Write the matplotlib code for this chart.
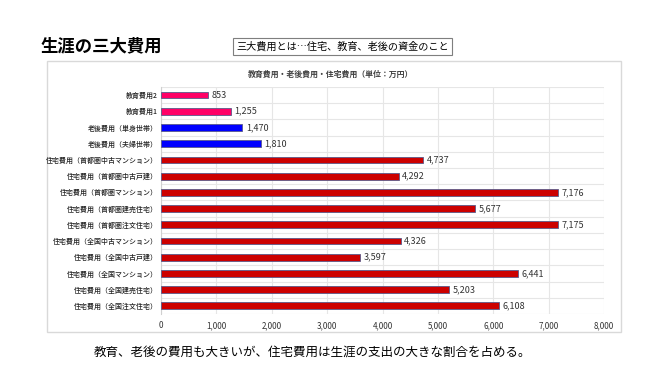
import matplotlib
matplotlib.use("Agg")
import matplotlib.pyplot as plt
from matplotlib.patches import Rectangle

plt.rcParams['font.family'] = ['Noto Sans CJK JP', 'DejaVu Sans']

categories = [
    "教育費用2", "教育費用1", "老後費用（単身世帯）", "老後費用（夫婦世帯）",
    "住宅費用（首都圏中古マンション）", "住宅費用（首都圏中古戸建）",
    "住宅費用（首都圏マンション）", "住宅費用（首都圏建売住宅）",
    "住宅費用（首都圏注文住宅）", "住宅費用（全国中古マンション）",
    "住宅費用（全国中古戸建）", "住宅費用（全国マンション）",
    "住宅費用（全国建売住宅）", "住宅費用（全国注文住宅）",
]
values = [853, 1255, 1470, 1810, 4737, 4292, 7176, 5677, 7175, 4326, 3597, 6441, 5203, 6108]
groups = ["edu", "edu", "old", "old"] + ["house"] * 10
group_colors = {"edu": "#FF0066", "old": "#0000FF", "house": "#CC0000"}
xticks = [0, 1000, 2000, 3000, 4000, 5000, 6000, 7000, 8000]

fig = plt.figure(figsize=(6.61, 3.73), dpi=100)
fig.patch.set_facecolor("white")

# chart panel
fig.patches.append(Rectangle((0.0711, 0.1099), 0.8684, 0.7265, transform=fig.transFigure,
                             facecolor="white", edgecolor="#D9D9D9", linewidth=1.0, zorder=-5))

ax = fig.add_axes([0.2436, 0.1582, 0.6702, 0.6086])
ax.set_facecolor("none")
n = len(categories)
ypos = list(range(n))
colors = [group_colors[g] for g in groups]
ax.barh(ypos, values, height=0.42, color=colors, edgecolor="#5A5A8A", linewidth=0.6, zorder=3)
ax.set_ylim(n - 0.5, -0.5)
ax.set_xlim(0, 8000)
ax.set_xticks(xticks)
ax.set_xticklabels([f"{v:,}" for v in xticks], fontsize=5.8, color="#333333")
ax.set_yticks(ypos)
ax.set_yticklabels(categories, fontsize=5, color="#222222", fontweight="medium")
ax.tick_params(axis="y", length=0, pad=2.5)
ax.tick_params(axis="x", length=0, pad=5)
# gridlines
ax.set_yticks([i + 0.5 for i in range(-1, n)], minor=True)
ax.grid(True, which="minor", axis="y", color="#E6E6E6", linewidth=0.8, zorder=0)
ax.grid(True, which="major", axis="x", color="#E6E6E6", linewidth=0.8, zorder=0)
ax.tick_params(which="minor", length=0)
for s in ax.spines.values():
    s.set_visible(False)
ax.spines["left"].set_visible(True)
ax.spines["left"].set_color("#D0D0D0")
ax.spines["left"].set_linewidth(0.8)

for y, v in zip(ypos, values):
    ax.text(v + 60, y, f"{v:,}", va="center", ha="left", fontsize=6.5, color="#333333")

fig.text(0.5, 0.8, "教育費用・老後費用・住宅費用（単位：万円）", ha="center", va="center",
         fontsize=5.7, color="#404040", fontweight="bold")

fig.text(0.062, 0.876, "生涯の三大費用", ha="left", va="center", fontsize=12.5, fontweight="bold",
         color="black")
fig.text(0.518, 0.876, "三大費用とは…住宅、教育、老後の資金のこと", ha="center", va="center",
         fontsize=7.3, color="black",
         bbox=dict(boxstyle="square,pad=0.35", facecolor="white", edgecolor="#7F7F7F", linewidth=0.8))
fig.text(0.473, 0.056, "教育、老後の費用も大きいが、住宅費用は生涯の支出の大きな割合を占める。",
         ha="center", va="center", fontsize=9.0, color="black")

fig.savefig("out.png", dpi=100)
